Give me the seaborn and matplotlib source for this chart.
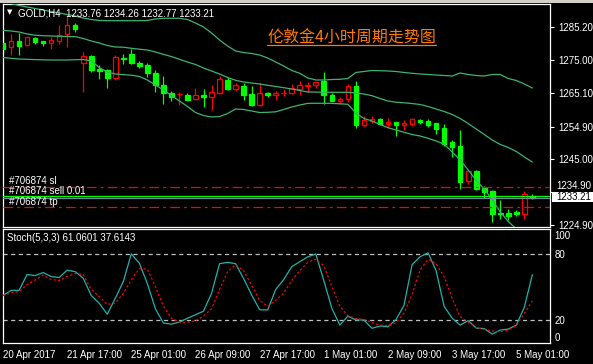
import numpy as np
import pandas as pd
import matplotlib
matplotlib.use("Agg")
import matplotlib.pyplot as plt
import seaborn as sns
from matplotlib.patches import Rectangle
from matplotlib.lines import Line2D

# ---------------- data ----------------
bar_idx = list(range(67))
opens = [1280.2, 1279.0, 1280.9, 1279.6, 1281.9, 1280.9, 1280.4, 1281.0, 1283.0, 1285.8,
         1274.3, 1276.4, 1272.5, 1272.1, 1269.6, 1275.9, 1277.0, 1274.3, 1273.6, 1271.1,
         1267.5, 1265.0, 1264.8, 1264.5, 1263.4, 1264.4, 1263.8, 1265.2, 1269.1, 1266.3,
         1267.2, 1264.8, 1261.4, 1265.2, 1264.4, 1265.0, 1265.2, 1266.4, 1267.2, 1267.6,
         1268.8, 1264.4, 1262.8, 1263.2, 1267.2, 1255.3, 1256.6, 1257.1, 1255.8, 1256.3,
         1255.5, 1255.6, 1256.9, 1256.7, 1255.9, 1254.4, 1250.2, 1248.9, 1238.2, 1241.3,
         1236.1, 1235.3, 1228.6, 1228.6, 1228.9, 1228.3, 1233.76]
highs = [1282.5, 1283.1, 1283.5, 1282.3, 1282.2, 1281.0, 1282.2, 1285.8, 1288.9, 1286.5,
         1277.6, 1276.7, 1273.5, 1272.3, 1276.6, 1276.9, 1278.4, 1274.9, 1274.3, 1272.1,
         1270.3, 1265.8, 1265.5, 1265.0, 1266.5, 1266.2, 1267.4, 1270.3, 1269.9, 1268.0,
         1268.0, 1267.2, 1268.0, 1265.5, 1265.7, 1266.2, 1267.8, 1268.7, 1268.4, 1268.8,
         1271.5, 1265.2, 1263.8, 1267.8, 1268.7, 1258.1, 1258.1, 1257.4, 1257.4, 1256.3,
         1256.9, 1257.5, 1257.3, 1257.2, 1255.9, 1255.6, 1250.8, 1253.8, 1241.6, 1241.6,
         1236.9, 1235.5, 1232.5, 1229.8, 1229.4, 1235.2, 1234.26]
lows = [1277.4, 1276.7, 1276.7, 1279.4, 1280.0, 1279.5, 1278.6, 1280.0, 1279.2, 1283.8,
        1265.5, 1271.5, 1269.4, 1266.7, 1269.0, 1273.9, 1273.9, 1272.7, 1269.9, 1265.5,
        1261.9, 1262.6, 1261.4, 1262.9, 1262.9, 1260.9, 1259.9, 1264.8, 1266.0, 1265.8,
        1262.9, 1261.1, 1261.1, 1263.8, 1262.9, 1264.2, 1264.9, 1264.4, 1265.4, 1266.6,
        1261.9, 1262.8, 1261.7, 1262.4, 1254.4, 1254.9, 1255.9, 1255.3, 1254.4, 1252.0,
        1253.8, 1255.0, 1255.6, 1254.8, 1252.6, 1248.9, 1245.5, 1235.8, 1237.5, 1235.5,
        1233.1, 1225.9, 1226.6, 1226.3, 1227.8, 1226.7, 1232.77]
closes = [1278.4, 1280.9, 1279.5, 1282.1, 1280.6, 1280.4, 1281.2, 1282.7, 1285.8, 1284.6,
          1276.4, 1272.1, 1271.7, 1269.6, 1276.0, 1275.4, 1274.3, 1273.3, 1271.1, 1267.4,
          1265.0, 1263.8, 1264.9, 1263.0, 1264.4, 1263.8, 1265.3, 1269.3, 1266.4, 1267.5,
          1264.5, 1261.4, 1265.0, 1264.4, 1265.2, 1265.2, 1266.5, 1267.4, 1267.4, 1268.4,
          1264.4, 1262.8, 1263.2, 1267.2, 1255.4, 1256.9, 1257.3, 1255.8, 1256.3, 1255.3,
          1255.9, 1257.1, 1256.3, 1255.4, 1254.2, 1249.6, 1248.7, 1238.0, 1241.3, 1235.8,
          1234.9, 1228.2, 1228.2, 1227.6, 1228.2, 1234.2, 1233.21]
bb_upper = [1292.96, 1292.35, 1291.75, 1291.29, 1290.83, 1290.38, 1289.92, 1289.46, 1289.0, 1288.55,
            1287.94, 1287.48, 1287.18, 1287.12, 1287.12, 1287.12, 1287.12, 1287.12, 1287.18, 1287.63,
            1287.85, 1287.85, 1287.85, 1287.48, 1286.42, 1285.2, 1283.37, 1281.24, 1279.41, 1277.89,
            1277.43, 1277.13, 1276.67, 1275.76, 1274.54, 1273.32, 1271.95, 1271.1, 1269.67, 1269.06,
            1269.06, 1269.21, 1269.27, 1269.52, 1271.35, 1271.65, 1271.95, 1271.89, 1271.8, 1271.65,
            1271.35, 1271.1, 1270.89, 1270.74, 1270.58, 1270.43, 1270.28, 1271.19, 1270.74, 1270.43,
            1270.28, 1270.74, 1270.74, 1269.52, 1268.91, 1267.84, 1266.62]
bb_mid = [1284.19, 1283.98, 1283.68, 1283.07, 1282.7, 1282.55, 1282.46, 1282.37, 1282.31, 1282.25,
          1281.7, 1280.94, 1280.33, 1279.57, 1279.11, 1279.05, 1278.71, 1278.44, 1278.2, 1277.59,
          1276.89, 1276.19, 1275.36, 1274.54, 1273.78, 1272.71, 1271.8, 1270.89, 1269.82, 1268.97,
          1268.45, 1268.15, 1267.84, 1267.45, 1267.08, 1266.72, 1266.32, 1265.86, 1265.41, 1265.38,
          1265.35, 1265.32, 1265.32, 1265.32, 1265.1, 1264.8, 1264.28, 1263.43, 1262.66, 1262.3,
          1262.12, 1261.9, 1261.6, 1261.0, 1260.23, 1259.47, 1258.56, 1257.34, 1255.81, 1254.14,
          1252.47, 1250.79, 1249.42, 1248.51, 1247.29, 1245.61, 1244.09]
bb_lower = [1275.91, 1275.67, 1275.46, 1275.36, 1275.27, 1275.21, 1275.15, 1275.15, 1275.15, 1275.24,
            1275.3, 1274.85, 1272.87, 1271.5, 1270.89, 1270.7, 1270.52, 1270.13, 1269.06, 1267.54,
            1266.02, 1264.34, 1262.67, 1261.0, 1259.16, 1258.25, 1257.79, 1257.95, 1258.86, 1260.23,
            1260.08, 1259.62, 1259.16, 1259.22, 1259.38, 1260.08, 1260.84, 1261.45, 1261.94, 1261.97,
            1261.97, 1261.94, 1261.81, 1261.66, 1259.01, 1257.34, 1256.58, 1255.51, 1254.54, 1253.84,
            1253.14, 1252.46, 1252.01, 1251.31, 1250.49, 1249.48, 1247.14, 1244.7, 1241.66, 1238.46,
            1235.87, 1232.52, 1228.87, 1225.97, 1223.69, 1222.78, 1221.56]
stoch_k = [42.4, 46.9, 46.9, 61.2, 60.3, 63.0, 59.4, 58.5, 65.2, 63.8,
           58.0, 42.4, 35.3, 25.5, 39.8, 54.9, 79.9, 71.4, 53.1, 30.4,
           17.5, 16.6, 18.3, 21.9, 25.0, 28.2, 44.2, 71.0, 72.2, 71.0,
           57.6, 42.8, 29.5, 29.3, 47.8, 56.7, 68.3, 72.8, 77.2, 79.7,
           55.8, 30.8, 15.7, 23.7, 20.3, 20.3, 12.8, 14.8, 14.2, 20.6,
           33.5, 70.1, 77.2, 80.8, 64.7, 32.6, 21.9, 15.7, 19.7, 13.0,
           12.5, 7.6, 11.2, 12.1, 15.7, 31.7, 61.06]
stoch_d = [42.2, 45.0, 45.7, 52.2, 56.3, 60.7, 56.7, 55.8, 59.4, 62.1,
           61.2, 47.8, 41.5, 34.4, 35.3, 44.2, 56.7, 66.5, 66.1, 50.5,
           32.6, 21.9, 18.3, 18.3, 19.7, 23.7, 30.4, 47.8, 63.8, 70.1,
           64.7, 51.4, 38.0, 32.6, 38.0, 44.7, 55.8, 64.7, 72.3, 75.0,
           69.2, 50.5, 32.6, 24.1, 21.5, 20.8, 17.9, 15.7, 15.2, 17.9,
           26.4, 43.3, 65.3, 75.0, 71.0, 59.4, 39.8, 23.3, 18.3, 13.4,
           11.8, 10.3, 9.7, 11.0, 15.2, 26.4, 37.61]
price_ticks = [1285.20, 1275.00, 1265.10, 1254.90, 1245.00, 1234.90, 1224.90]
stoch_ticks = [100, 80, 20, 0]
stoch_levels = [80, 20]
time_tick_bars = [0, 8, 16, 24, 32, 40, 48, 56, 64]
time_tick_labels = ["20 Apr 2017", "21 Apr 17:00", "25 Apr 01:00", "26 Apr 09:00",
                    "27 Apr 17:00", "1 May 01:00", "2 May 09:00", "3 May 17:00", "5 May 01:00"]
symbol_title = "GOLD,H4"
last_ohlc = [1233.76, 1234.26, 1232.77, 1233.21]
chart_title = "伦敦金4小时周期走势图"
stoch_title = "Stoch(5,3,3)"
stoch_last = [61.0601, 37.6143]
order_labels = ["#706874 sl", "#706874 sell 0.01", "#706874 tp"]
order_prices = [1236.39, 1233.76, 1230.30]
bid_price = 1233.21

# ---------------- style ----------------
sns.set_style("dark")
plt.rcParams['font.family'] = ['Liberation Sans', 'DejaVu Sans']
plt.rcParams['lines.scale_dashes'] = False

W, H = 593, 364
fig = plt.figure(figsize=(W / 100, H / 100), dpi=100, facecolor='black')

def fx(px):
    return px / W

def fy(py):
    return 1 - py / H

ax1 = fig.add_axes([fx(2.5), fy(227), (550 - 2.5) / W, (227 - 4) / H])
ax2 = fig.add_axes([fx(2.5), fy(343), (550 - 2.5) / W, (343 - 229) / H])

WHITE = 'white'
BAND = '#3CB371'
UPC = '#FF0000'
DNC = '#00FF00'

for ax in (ax1, ax2):
    ax.set_facecolor('black')
    ax.grid(False)
    for s in ax.spines.values():
        s.set_color(WHITE)
        s.set_linewidth(0.9)
    ax.yaxis.tick_right()
    ax.tick_params(axis='y', colors=WHITE, labelcolor=WHITE, labelsize=7,
                   length=3, width=0.8, pad=3, direction='out')
    ax.set_xlim(-0.06, 68.2)

df = pd.DataFrame({'bar': bar_idx, 'open': opens, 'high': highs, 'low': lows,
                   'close': closes, 'upper': bb_upper, 'mid': bb_mid,
                   'lower': bb_lower, 'k': stoch_k, 'd': stoch_d})

# ---------------- main price panel ----------------
ax1.set_ylim(1224.3, 1292.2)
for _, r in df.iterrows():
    bull = r['close'] >= r['open']
    col = UPC if bull else DNC
    ax1.vlines(r['bar'], r['low'], r['high'], color=col, lw=0.9, zorder=2)
    bottom = min(r['open'], r['close'])
    height = max(abs(r['close'] - r['open']), 0.12)
    ax1.bar(r['bar'], height, bottom=bottom, width=0.58,
            facecolor='black' if bull else DNC, edgecolor=col, lw=0.9, zorder=3)

for col_name in ['upper', 'mid', 'lower']:
    sns.lineplot(data=df, x='bar', y=col_name, ax=ax1, color=BAND, lw=0.9,
                 legend=False, zorder=4)

# order lines
ax1.axhline(order_prices[0], color='red', lw=0.9, dashes=(7, 3, 2, 3), zorder=5)
ax1.axhline(order_prices[2], color='red', lw=0.9, dashes=(7, 3, 2, 3), zorder=5)
ax1.axhline(order_prices[1], color='#00FF00', lw=0.9, zorder=5)
ax1.axhline(bid_price, color='#778899', lw=0.9, zorder=5)

ax1.set_yticks(price_ticks)
ax1.set_yticklabels([f"{v:.2f}" if abs(v - bid_price) > 3 else '' for v in price_ticks])
ax1.set_xticks([])
ax1.set_xlabel('')
ax1.set_ylabel('')

# the tick label next to the bid box sits just above it
for v in price_ticks:
    if abs(v - bid_price) <= 3:
        fig.text(fx(556), fy(186.5), f"{v:.2f}", color=WHITE, fontsize=7, va='center')

# ---------------- stochastic panel ----------------
ax2.set_ylim(-0.45, 102.25)
for lv in stoch_levels:
    ax2.axhline(lv, color='#C0C0C0', lw=0.9, dashes=(3, 2.5), zorder=1)
sns.lineplot(data=df, x='bar', y='k', ax=ax2, color='#20B2AA', lw=0.9,
             legend=False, zorder=3)
sns.lineplot(data=df, x='bar', y='d', ax=ax2, color='#FF0000', lw=0.9,
             dashes=False, legend=False, zorder=4)
ax2.lines[-1].set_dashes((1.6, 1.6))
ax2.set_yticks(stoch_ticks)
ax2.set_yticklabels([str(v) for v in stoch_ticks])
for t, v in zip(ax2.get_yticklabels(), stoch_ticks):
    if v == 100:
        t.set_verticalalignment('top')
    elif v == 0:
        t.set_verticalalignment('bottom')
ax2.tick_params(axis='y', length=0)
ax2.set_xticks(time_tick_bars)
ax2.set_xticklabels(time_tick_labels)
ax2.tick_params(axis='x', colors=WHITE, labelcolor=WHITE, labelsize=7,
                length=4, width=0.8, pad=1, direction='out')
for t in ax2.get_xticklabels():
    t.set_horizontalalignment('left')
ax2.set_xlabel('')
ax2.set_ylabel('')

# ---------------- texts & decorations ----------------
fig.patches.append(Rectangle((0, fy(3)), 1, 3 / H, transform=fig.transFigure,
                             facecolor='#D4D0C8', edgecolor='none', zorder=0))
fig.text(fx(6.5), fy(12.5), '▼', color=WHITE, fontsize=5, va='center',
         family=['DejaVu Sans'])
fig.text(fx(18), fy(13), symbol_title + "  " + " ".join(f"{v:.2f}" for v in last_ohlc),
         color=WHITE, fontsize=7, va='center')
fig.text(fx(268), fy(38), chart_title, color='#FF7A00', fontsize=11.5, va='center',
         family=['Noto Sans CJK SC', 'DejaVu Sans'])
fig.add_artist(Line2D([fx(267), fx(436)], [fy(44.8), fy(44.8)], color='#FF7A00', lw=0.9))

label_y = [186.5, 196, 207]
for txt, py in zip(order_labels, label_y):
    fig.text(fx(9), fy(py), txt, color=WHITE, fontsize=7, va='bottom')

fig.text(fx(7), fy(238), f"{stoch_title} {stoch_last[0]:.4f} {stoch_last[1]:.4f}",
         color=WHITE, fontsize=7, va='center')

fig.patches.append(Rectangle((fx(551.5), fy(201.5)), (593 - 551.5) / W, 10 / H,
                             transform=fig.transFigure, facecolor='white',
                             edgecolor='none', zorder=10))
fig.text(fx(556), fy(196.5), f"{last_ohlc[3]:.2f}", color='black', fontsize=7,
         va='center', zorder=11)

fig.savefig('out.png', dpi=100, facecolor='black')
